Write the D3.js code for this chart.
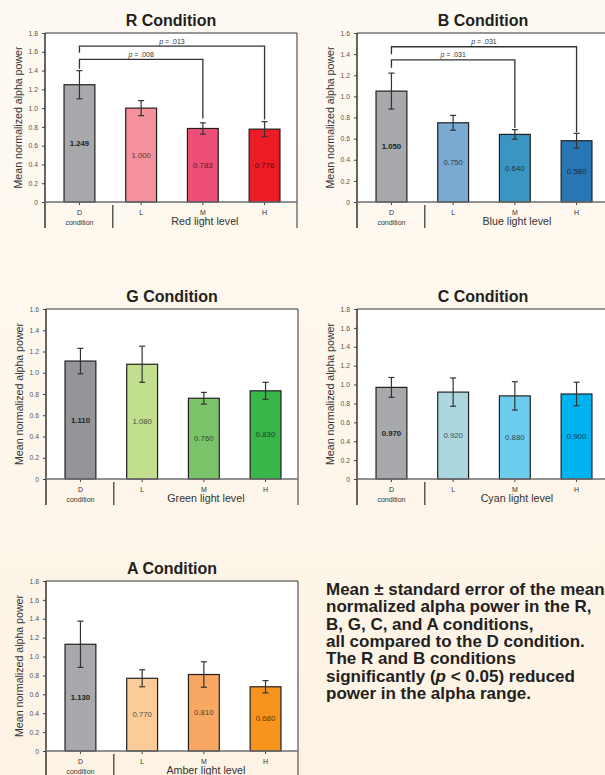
<!DOCTYPE html>
<html>
<head>
<meta charset="utf-8">
<script src="https://cdn.jsdelivr.net/npm/d3@7"></script>
<style>
  html, body { margin: 0; padding: 0; }
  body { width: 605px; height: 775px; overflow: hidden; font-family: "Liberation Sans", Arial, sans-serif; }
</style>
</head>
<body>
<script>
// ---------------- data ----------------
const categories = ["D", "L", "M", "H"];

const rValues = [1.249, 1.000, 0.783, 0.776];
const rErrors = [0.15, 0.08, 0.06, 0.08];
const bValues = [1.050, 0.750, 0.640, 0.580];
const bErrors = [0.17, 0.07, 0.045, 0.07];
const gValues = [1.110, 1.080, 0.760, 0.830];
const gErrors = [0.12, 0.17, 0.055, 0.08];
const cValues = [0.970, 0.920, 0.880, 0.900];
const cErrors = [0.105, 0.15, 0.15, 0.125];
const aValues = [1.130, 0.770, 0.810, 0.680];
const aErrors = [0.245, 0.09, 0.135, 0.065];

const ticks18 = [0, 0.2, 0.4, 0.6, 0.8, 1.0, 1.2, 1.4, 1.6, 1.8];
const ticks16 = [0, 0.2, 0.4, 0.6, 0.8, 1.0, 1.2, 1.4, 1.6];

const rColors = ["#a7a9ac", "#f4919c", "#ee4f77", "#ed1c24"];
const bColors = ["#a7a9ac", "#7aaad1", "#3b95c3", "#2877b5"];
const gColors = ["#939598", "#c2df8f", "#7cc46a", "#3ab54a"];
const cColors = ["#a7a9ac", "#acd6e0", "#6dcdef", "#00b3ef"];
const aColors = ["#a7a9ac", "#fbcb9a", "#f8a862", "#f7941e"];

// significance brackets (data units)
const rBrackets = [
  { to: "M", y: 1.52, yLeft: 1.42, yRight: 0.89, p: ".008" },
  { to: "H", y: 1.66, yLeft: 1.59, yRight: 0.88, p: ".013" }
];
const bBrackets = [
  { to: "M", y: 1.345, yLeft: 1.27, yRight: 0.70, p: ".031" },
  { to: "H", y: 1.47, yLeft: 1.40, yRight: 0.66, p: ".031" }
];

const caption = [
  "Mean ± standard error of the mean",
  "normalized alpha power in the R,",
  "B, G, C, and A conditions,",
  "all compared to the D condition.",
  "The R and B conditions",
  ["significantly (", "p", " < 0.05) reduced"],
  "power in the alpha range."
];

const panels = [
  { title: "R Condition", light: "Red light level", values: rValues, errors: rErrors, colors: rColors, ticks: ticks18, brackets: rBrackets, left: 45, top: 33, bottom: 202 },
  { title: "B Condition", light: "Blue light level", values: bValues, errors: bErrors, colors: bColors, ticks: ticks16, brackets: bBrackets, left: 357, top: 33, bottom: 202 },
  { title: "G Condition", light: "Green light level", values: gValues, errors: gErrors, colors: gColors, ticks: ticks16, brackets: [], left: 46, top: 309, bottom: 479 },
  { title: "C Condition", light: "Cyan light level", values: cValues, errors: cErrors, colors: cColors, ticks: ticks18, brackets: [], left: 357, top: 309, bottom: 479 },
  { title: "A Condition", light: "Amber light level", values: aValues, errors: aErrors, colors: aColors, ticks: ticks18, brackets: [], left: 46, top: 581, bottom: 751 }
];

// ---------------- drawing ----------------
const W = 605, H = 775;
const svg = d3.select("body").append("svg").attr("width", W).attr("height", H);

const defs = svg.append("defs");
const grad = defs.append("linearGradient").attr("id", "bg").attr("x1", 0).attr("y1", 0).attr("x2", 0).attr("y2", 1);
grad.append("stop").attr("offset", "0%").attr("stop-color", "#fefaf3");
grad.append("stop").attr("offset", "100%").attr("stop-color", "#fdf3e4");
svg.append("rect").attr("width", W).attr("height", H).attr("fill", "url(#bg)");

const plotW = 252;
const catDepth = 26;
const fmtTick = d => d === 0 ? "0" : d3.format(".1f")(d);
const fmtVal = d3.format(".3f");

panels.forEach(p => {
  const g = svg.append("g");
  const right = p.left + plotW;
  const yMax = p.ticks[p.ticks.length - 1];
  const y = d3.scaleLinear().domain([0, yMax]).range([p.bottom, p.top]);
  const x = d3.scaleBand().domain(categories).range([p.left + 3.6, right - 1.6]).paddingInner(0.5).paddingOuter(0.25);
  const cx = c => x(c) + x.bandwidth() / 2;

  // white plot area
  g.append("rect").attr("x", p.left).attr("y", p.top).attr("width", plotW).attr("height", p.bottom - p.top).attr("fill", "#ffffff");

  // title
  g.append("text").attr("x", p.left + 126).attr("y", p.top - 7).attr("text-anchor", "middle")
    .attr("font-size", 16).attr("font-weight", "bold").attr("fill", "#231f20").text(p.title);

  // y axis
  const yAxis = d3.axisLeft(y).tickValues(p.ticks).tickFormat(fmtTick).tickSize(3).tickPadding(4);
  const ya = g.append("g").attr("transform", `translate(${p.left},0)`).call(yAxis);
  ya.select(".domain").remove();
  ya.selectAll("line").attr("stroke", "#444").attr("stroke-width", 1);
  ya.selectAll("text").attr("font-size", 6.8).attr("fill", "#555").attr("font-family", "Liberation Sans, Arial, sans-serif");

  // y label
  g.append("text")
    .attr("transform", `translate(${p.left - 27},${(p.top + p.bottom) / 2}) rotate(-90)`)
    .attr("text-anchor", "middle").attr("dominant-baseline", "central")
    .attr("font-size", 10.6).attr("fill", "#333").text("Mean normalized alpha power");

  // bars
  categories.forEach((c, i) => {
    const v = p.values[i];
    g.append("rect").attr("x", x(c)).attr("y", y(v)).attr("width", x.bandwidth()).attr("height", y(0) - y(v))
      .attr("fill", p.colors[i]).attr("stroke", "#231f20").attr("stroke-width", 1.2);
    // error bar
    const e = p.errors[i];
    const xc = cx(c);
    g.append("line").attr("x1", xc).attr("x2", xc).attr("y1", y(v + e)).attr("y2", y(v - e)).attr("stroke", "#333").attr("stroke-width", 1.2);
    [v + e, v - e].forEach(t => {
      g.append("line").attr("x1", xc - 3).attr("x2", xc + 3).attr("y1", y(t)).attr("y2", y(t)).attr("stroke", "#333").attr("stroke-width", 1.2);
    });
    // value label
    const lbl = g.append("text").attr("x", xc).attr("y", y(v / 2)).attr("text-anchor", "middle").attr("dominant-baseline", "central")
      .attr("font-size", 7.8).text(fmtVal(v));
    if (i === 0) lbl.attr("font-weight", "bold").attr("fill", "#231f20");
    else lbl.attr("fill", d3.color(p.colors[i]).darker(2.8).formatHex());
  });

  // significance brackets
  p.brackets.forEach(b => {
    const x1 = cx("D"), x2 = cx(b.to);
    g.append("path")
      .attr("d", `M${x1},${y(b.yLeft)}V${y(b.y)}H${x2}V${y(b.yRight)}`)
      .attr("fill", "none").attr("stroke", "#333").attr("stroke-width", 1.3);
    const t = g.append("text").attr("x", (x1 + x2) / 2).attr("y", y(b.y) - 2.5).attr("text-anchor", "middle")
      .attr("font-size", 7).attr("fill", "#333");
    t.append("tspan").attr("font-style", "italic").text("p");
    t.append("tspan").text(" = " + b.p);
  });

  // frame: top + right
  g.append("path").attr("d", `M${p.left},${p.top}H${right}V${p.bottom + catDepth}`).attr("fill", "none").attr("stroke", "#333").attr("stroke-width", 1);
  // left axis line (extends into category area)
  g.append("line").attr("x1", p.left).attr("x2", p.left).attr("y1", p.top).attr("y2", p.bottom + catDepth).attr("stroke", "#333").attr("stroke-width", 1.5);

  // x axis
  const xAxis = d3.axisBottom(x).tickSize(3).tickFormat(() => "");
  const xa = g.append("g").attr("transform", `translate(0,${p.bottom})`).call(xAxis);
  xa.select(".domain").remove();
  xa.selectAll("line").attr("stroke", "#444");
  g.append("line").attr("x1", p.left).attr("x2", right).attr("y1", p.bottom).attr("y2", p.bottom).attr("stroke", "#6d6e71").attr("stroke-width", 1.6);

  // category labels
  categories.forEach(c => {
    g.append("text").attr("x", cx(c)).attr("y", p.bottom + 12.5).attr("text-anchor", "middle").attr("font-size", 7).attr("fill", "#333").text(c);
  });
  g.append("text").attr("x", cx("D")).attr("y", p.bottom + 22.5).attr("text-anchor", "middle").attr("font-size", 7).attr("fill", "#333").text("condition");

  // divider between D and light levels
  const divX = (cx("D") + cx("L")) / 2 + 2.5;
  g.append("line").attr("x1", divX).attr("x2", divX).attr("y1", p.bottom + 3).attr("y2", p.bottom + catDepth).attr("stroke", "#333").attr("stroke-width", 1.2);

  g.append("text").attr("x", (divX + right) / 2).attr("y", p.bottom + 23).attr("text-anchor", "middle")
    .attr("font-size", 10.7).attr("fill", "#333").text(p.light);
});

// caption
const capX = 326, capY = 595, capLead = 17.3;
const cap = svg.append("text").attr("x", capX).attr("y", capY).attr("font-size", 17).attr("font-weight", "bold").attr("fill", "#231f20");
caption.forEach((line, i) => {
  const ts = cap.append("tspan").attr("x", capX).attr("y", capY + i * capLead);
  if (Array.isArray(line)) {
    ts.append("tspan").text(line[0]);
    ts.append("tspan").attr("font-style", "italic").text(line[1]);
    ts.append("tspan").text(line[2]);
  } else {
    ts.text(line);
  }
});
</script>
</body>
</html>
